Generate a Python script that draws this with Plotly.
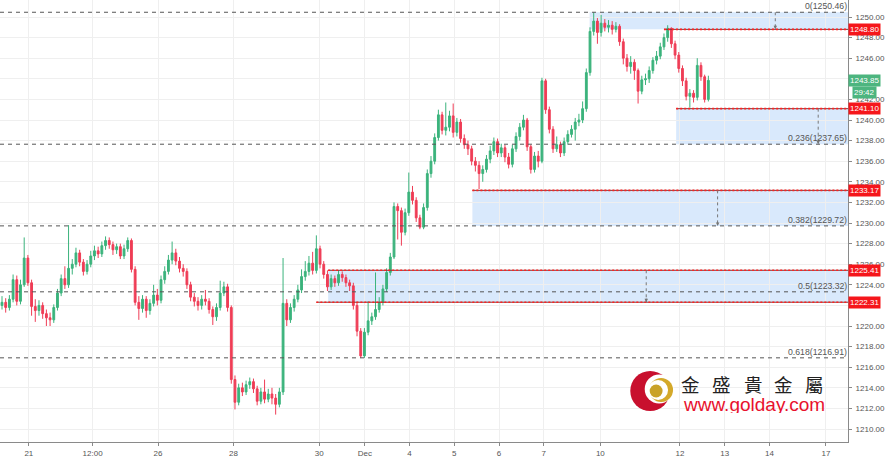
import plotly.graph_objects as go

# ---------------- data (2-hour gold candles) ----------------
first_open = 1222.0
closes = [
    1222.3, 1221.8, 1222.6, 1224.5, 1222.4, 1224.0, 1226.6, 1224.2, 1221.9, 1221.5,
    1222.0, 1221.2, 1220.8, 1220.6, 1221.8, 1223.2, 1224.6, 1224.0, 1225.6, 1226.0,
    1227.1, 1226.2, 1225.3, 1226.0, 1226.8, 1227.3, 1227.0, 1227.8, 1228.3, 1227.9,
    1227.4, 1227.7, 1226.8, 1227.5, 1228.3, 1225.5, 1222.3, 1221.7, 1222.6, 1221.5,
    1222.2, 1223.0, 1222.5, 1224.5, 1225.3, 1226.4, 1227.1, 1226.3, 1225.6, 1225.3,
    1224.0, 1222.8, 1222.4, 1222.0, 1222.6, 1222.4, 1221.6, 1220.9, 1221.8, 1223.2,
    1223.8, 1221.8, 1214.8, 1212.6, 1214.0, 1213.6, 1214.3, 1214.6, 1213.9, 1212.7,
    1213.6, 1212.9, 1213.4, 1213.0, 1212.4, 1213.6, 1222.2, 1220.6, 1221.8, 1222.6,
    1223.5, 1224.8, 1225.3, 1226.1, 1225.4, 1227.5, 1226.0, 1225.0, 1223.8, 1224.6,
    1224.2, 1225.0, 1224.7, 1224.2, 1223.9, 1222.0, 1219.5, 1217.1, 1219.4, 1220.5,
    1220.9, 1221.6, 1222.3, 1223.6, 1225.2, 1226.7, 1231.6, 1231.2, 1229.1, 1231.0,
    1233.0, 1232.2, 1230.5, 1229.6, 1231.5, 1234.8, 1236.0, 1238.3, 1240.5, 1239.0,
    1239.3, 1240.4, 1238.8, 1239.8, 1238.2, 1237.6, 1237.2, 1236.0, 1235.6, 1234.8,
    1235.2, 1236.2, 1237.0, 1237.9, 1236.8, 1237.3, 1236.4, 1235.7, 1237.2, 1238.4,
    1239.3, 1240.0, 1237.4, 1235.2, 1236.5, 1236.0, 1243.8, 1241.0, 1239.1, 1237.2,
    1237.6, 1236.8, 1237.9, 1238.6, 1239.1, 1239.8, 1240.0, 1241.1, 1244.6, 1248.6,
    1249.6, 1248.5, 1249.4, 1249.0, 1249.2, 1248.8, 1249.1, 1247.6, 1246.0, 1245.2,
    1245.6, 1244.8, 1242.8, 1243.9, 1244.0, 1244.8, 1245.8, 1246.2, 1247.1, 1248.0,
    1248.9, 1247.4, 1246.3, 1245.0, 1243.8, 1242.3, 1242.6, 1242.2, 1245.3, 1244.2,
    1242.0, 1243.85,
]
highs = [
    1222.9, 1222.7, 1223.0, 1225.0, 1224.9, 1224.5, 1228.6, 1226.9, 1224.5, 1222.6,
    1222.5, 1222.3, 1221.6, 1221.3, 1222.1, 1223.6, 1225.0, 1225.8, 1229.8, 1226.5,
    1227.6, 1227.4, 1226.5, 1226.4, 1227.3, 1227.8, 1227.7, 1228.2, 1228.7, 1228.6,
    1228.2, 1228.0, 1228.0, 1227.9, 1228.6, 1228.5, 1225.8, 1222.9, 1223.0, 1222.9,
    1222.6, 1224.0, 1223.6, 1224.9, 1225.8, 1226.9, 1228.2, 1227.5, 1226.7, 1226.0,
    1225.6, 1224.3, 1223.2, 1222.8, 1223.0, 1223.5, 1222.7, 1221.9, 1222.2, 1224.4,
    1224.3, 1224.1, 1222.0, 1215.2, 1214.4, 1214.5, 1214.7, 1215.0, 1214.9, 1214.2,
    1214.0, 1214.8, 1213.9, 1214.0, 1213.4, 1214.0, 1226.6, 1222.6, 1222.2, 1223.0,
    1224.0, 1225.5, 1226.3, 1226.8, 1227.2, 1228.8, 1227.8, 1226.3, 1225.4, 1225.0,
    1224.9, 1225.4, 1225.3, 1225.0, 1224.5, 1224.2, 1222.3, 1219.8, 1219.8, 1222.4,
    1221.3, 1225.2, 1222.8, 1224.0, 1225.6, 1227.1, 1232.0, 1231.9, 1231.5, 1231.4,
    1234.9, 1233.6, 1232.5, 1230.8, 1231.9, 1235.2, 1236.5, 1238.7, 1241.0, 1240.8,
    1241.7, 1240.9, 1241.6, 1240.2, 1240.1, 1238.6, 1238.0, 1237.5, 1236.4, 1236.0,
    1235.6, 1236.6, 1237.5, 1238.3, 1238.2, 1237.7, 1237.6, 1236.8, 1237.6, 1238.8,
    1239.7, 1240.5, 1240.2, 1237.6, 1236.9, 1237.0, 1244.1, 1244.0, 1241.3, 1239.4,
    1238.4, 1237.9, 1238.3, 1239.0, 1239.5, 1240.2, 1240.6, 1241.8, 1245.0, 1249.0,
    1250.46, 1249.9, 1250.2, 1249.8, 1249.7, 1249.6, 1249.5, 1249.3, 1247.9, 1246.4,
    1246.2, 1245.9, 1245.0, 1244.3, 1244.5, 1245.2, 1246.1, 1246.7, 1247.5, 1248.4,
    1249.2, 1249.0, 1247.7, 1246.6, 1245.3, 1244.1, 1243.0, 1242.9, 1246.0, 1245.6,
    1244.4, 1244.3,
]
lows = [
    1221.6, 1221.3, 1221.5, 1222.3, 1222.0, 1222.1, 1223.8, 1223.9, 1221.0, 1220.4,
    1221.0, 1220.7, 1220.0, 1220.0, 1220.3, 1221.5, 1222.9, 1223.6, 1223.7, 1225.0,
    1225.7, 1225.8, 1224.9, 1225.0, 1225.7, 1226.4, 1226.6, 1226.7, 1227.4, 1227.5,
    1226.9, 1227.0, 1226.5, 1226.5, 1227.2, 1225.2, 1222.0, 1220.6, 1221.3, 1220.8,
    1221.1, 1221.9, 1222.0, 1222.2, 1224.1, 1225.0, 1226.0, 1225.9, 1225.2, 1224.8,
    1223.6, 1222.4, 1221.9, 1221.5, 1221.6, 1222.0, 1221.2, 1220.1, 1220.5, 1221.5,
    1222.9, 1221.4, 1214.4, 1211.9, 1212.3, 1213.2, 1213.3, 1213.9, 1213.5, 1212.3,
    1212.4, 1212.5, 1212.6, 1212.4, 1211.4, 1212.1, 1213.3, 1220.0, 1220.3, 1221.4,
    1222.3, 1223.2, 1224.4, 1224.9, 1225.0, 1225.1, 1225.6, 1224.6, 1223.4, 1223.5,
    1223.8, 1223.9, 1224.3, 1223.8, 1223.4, 1221.6, 1219.0, 1216.9, 1216.9, 1219.1,
    1220.1, 1220.6, 1221.3, 1222.0, 1223.3, 1224.9, 1226.5, 1228.4, 1227.8, 1228.8,
    1230.7, 1231.8, 1230.1, 1229.4, 1229.4, 1231.2, 1234.4, 1235.7, 1238.0, 1238.6,
    1238.5, 1238.9, 1238.3, 1238.4, 1237.8, 1237.2, 1236.6, 1235.6, 1235.0, 1233.3,
    1234.0, 1234.9, 1235.8, 1236.6, 1236.4, 1236.4, 1235.9, 1235.3, 1235.4, 1236.9,
    1238.0, 1239.0, 1237.0, 1234.8, 1234.9, 1235.4, 1235.8, 1240.6, 1238.7, 1236.8,
    1236.9, 1236.4, 1236.5, 1237.6, 1238.3, 1238.0, 1239.4, 1239.7, 1240.8, 1244.3,
    1248.2, 1247.4, 1248.1, 1248.6, 1248.5, 1248.3, 1248.5, 1247.2, 1245.4, 1244.7,
    1244.5, 1243.9, 1241.6, 1242.5, 1243.4, 1243.6, 1244.5, 1245.4, 1245.9, 1246.8,
    1247.6, 1247.0, 1245.9, 1244.6, 1243.3, 1241.9, 1241.2, 1241.7, 1241.9, 1243.8,
    1241.7, 1241.8,
]
opens = [first_open] + closes[:-1]
bar_index = list(range(len(closes)))

# x-axis tick labels (positions in bar units)
tick_pos = [7.26, 24.5, 42.2, 62.6, 85.8, 98.1, 110.2, 122.3, 134.4, 146.5, 161.8, 183.3, 195.4, 207.5, 222.8]
tick_txt = ["21", "12:00", "26", "28", "30", "Dec", "4", "5", "6", "7", "10", "12", "13", "14", "17"]

# price axis ticks; values hidden behind the price tags are left blank
y_ticks = list(range(1210, 1252, 2))
y_hidden = [1244, 1222]

# Fibonacci retracement levels
fib_ratios = ["0", "0.236", "0.382", "0.5", "0.618"]
fib_prices = [1250.46, 1237.65, 1229.72, 1223.32, 1216.91]

# shaded zones: (start bar, top price, bottom price, measure-arrow bar)
zone_start = [158.9, 182.3, 127.2, 88.2]
zone_top = [1250.46, 1241.10, 1233.17, 1225.41]
zone_bottom = [1248.80, 1237.65, 1229.72, 1222.31]
zone_arrow = [209.1, 220.7, 193.5, 174.2]

# red support / resistance lines
red_prices = [1248.80, 1241.10, 1233.17, 1225.41, 1222.31]
red_start = [179.0, 182.3, 127.2, 88.2, 85.0]

last_price = 1243.85
countdown = "29:42"

X_MIN, X_MAX = -0.54, 228.76
Y_MIN, Y_MAX = 1208.74, 1251.65

GREEN = "#3bb37c"
RED = "#ef3d56"
LABEL_RED = "#f5161b"
TXT = "#555555"

fig = go.Figure()

fig.add_trace(go.Candlestick(
    x=bar_index, open=opens, high=highs, low=lows, close=closes,
    increasing=dict(line=dict(color=GREEN, width=1), fillcolor=GREEN),
    decreasing=dict(line=dict(color=RED, width=1), fillcolor=RED),
    whiskerwidth=0, hoverinfo="skip", showlegend=False,
))

shapes = []
# shaded zones
for xs, top, bot in zip(zone_start, zone_top, zone_bottom):
    shapes.append(dict(type="rect", xref="x", yref="y", x0=xs, x1=X_MAX, y0=bot, y1=top,
                       fillcolor="rgba(180,212,250,0.5)", line=dict(width=0), layer="below"))
# fib dashed lines
for p in fib_prices:
    shapes.append(dict(type="line", xref="x", yref="y", x0=X_MIN, x1=X_MAX, y0=p, y1=p,
                       line=dict(color="#555555", width=1, dash="4px,4px"), layer="above"))
# red dotted lines
for p, xs in zip(red_prices, red_start):
    shapes.append(dict(type="line", xref="x", yref="y", x0=xs, x1=X_MAX, y0=p, y1=p,
                       line=dict(color="#7a3a3a", width=1), layer="above"))
    shapes.append(dict(type="line", xref="x", yref="y", x0=xs, x1=X_MAX, y0=p, y1=p,
                       line=dict(color="#ff2020", width=1.6, dash="2px,2px"), layer="above"))
# measurement arrows (dashed verticals)
for xa, top, bot in zip(zone_arrow, zone_top, zone_bottom):
    shapes.append(dict(type="line", xref="x", yref="y", x0=xa, x1=xa, y0=top, y1=bot,
                       line=dict(color="#777777", width=1, dash="3px,3px"), layer="above"))


# logo (decoration) in paper coords, defined by pixel centres in the plot area
def circ(cx, cy, r, color, line=None):
    W, H = 853.0, 442.0
    return dict(type="circle", xref="paper", yref="paper",
                x0=(cx - r) / W, x1=(cx + r) / W, y0=1 - (cy + r) / H, y1=1 - (cy - r) / H,
                fillcolor=color, line=dict(width=0) if line is None else line, layer="above")


shapes += [
    circ(654, 391, 20, "#c8102e"),
    circ(663, 389, 14.5, "white"),
    circ(665, 390, 12, "#d4a92a"),
    circ(662, 390, 10, "white"),
    circ(660, 391, 6.5, "#c9a227"),
]

annotations = []
for r, p in zip(fib_ratios, fib_prices):
    annotations.append(dict(x=1.001, xref="paper", y=p, yref="y", text=f"{r}({p:.2f})",
                            showarrow=False, xanchor="right", yanchor="bottom", yshift=-1,
                            font=dict(size=8.7, color=TXT, family="Liberation Sans")))
for xa, top, bot in zip(zone_arrow, zone_top, zone_bottom):
    annotations.append(dict(x=xa, y=bot, xref="x", yref="y", ax=xa, ay=bot + 0.5,
                            axref="x", ayref="y", showarrow=True, arrowhead=2, arrowsize=0.7,
                            arrowwidth=1, arrowcolor="#777777", text=""))
for p in red_prices:
    annotations.append(dict(x=1.0, xref="paper", y=p, yref="y", text=f"{p:.2f}", showarrow=False,
                            xanchor="left", yanchor="middle", bgcolor=LABEL_RED, borderpad=1,
                            font=dict(size=8, color="white", family="Liberation Sans")))
annotations.append(dict(x=1.0, xref="paper", y=last_price, yref="y", text=f"{last_price:.2f}",
                        showarrow=False, xanchor="left", yanchor="middle", bgcolor="#4db57f",
                        borderpad=1, font=dict(size=8, color="white", family="Liberation Sans")))
annotations.append(dict(x=882 / 853, xref="paper", y=last_price - 1.15, yref="y", text=countdown,
                        showarrow=False, xanchor="right", yanchor="middle", bgcolor="#4db57f",
                        borderpad=1, font=dict(size=8, color="white", family="Liberation Sans")))

# logo text
logo_chars = ["金", "盛", "貴", "金", "屬"]
logo_char_px = [695, 726, 758, 788, 819]
for ch, px in zip(logo_chars, logo_char_px):
    annotations.append(dict(x=px / 853, y=1 - 383.5 / 442, xref="paper", yref="paper", text=ch,
                            showarrow=False, xanchor="center", yanchor="middle", height=20,
                            font=dict(size=18.5, color="#222222", family="Noto Sans CJK TC")))
annotations.append(dict(x=685 / 853, y=1 - 403.5 / 442, xref="paper", yref="paper",
                        text="www.golday.com", showarrow=False, xanchor="left", yanchor="middle",
                        height=18,
                        font=dict(size=19, color="#e8112d", family="Liberation Sans")))

y_ticktext = ["" if v in y_hidden else f"{v:.2f}" for v in y_ticks]

fig.update_layout(
    width=885, height=458,
    margin=dict(l=0, r=32, t=0, b=16),
    paper_bgcolor="white", plot_bgcolor="white",
    shapes=shapes, annotations=annotations,
    showlegend=False,
    xaxis=dict(range=[X_MIN, X_MAX], rangeslider=dict(visible=False),
               tickmode="array", tickvals=tick_pos, ticktext=tick_txt,
               showgrid=True, gridcolor="#efefef", gridwidth=1,
               showline=True, linecolor="#8a8a8a", linewidth=1,
               ticks="outside", ticklen=3, tickcolor="#8a8a8a",
               tickfont=dict(size=8, color=TXT, family="Liberation Sans"),
               zeroline=False, fixedrange=True),
    yaxis=dict(range=[Y_MIN, Y_MAX], side="right",
               tickmode="array", tickvals=y_ticks, ticktext=y_ticktext,
               showgrid=True, gridcolor="#efefef", gridwidth=1,
               showline=True, linecolor="#8a8a8a", linewidth=1,
               ticks="outside", ticklen=3, tickcolor="#8a8a8a",
               ticklabelstandoff=2,
               tickfont=dict(size=8, color=TXT, family="Liberation Sans"),
               zeroline=False, fixedrange=True),
)

fig.write_html(
    "out.html",
    config={"displayModeBar": False},
    post_script="document.body.style.margin='0';document.body.style.overflow='hidden';",
)
